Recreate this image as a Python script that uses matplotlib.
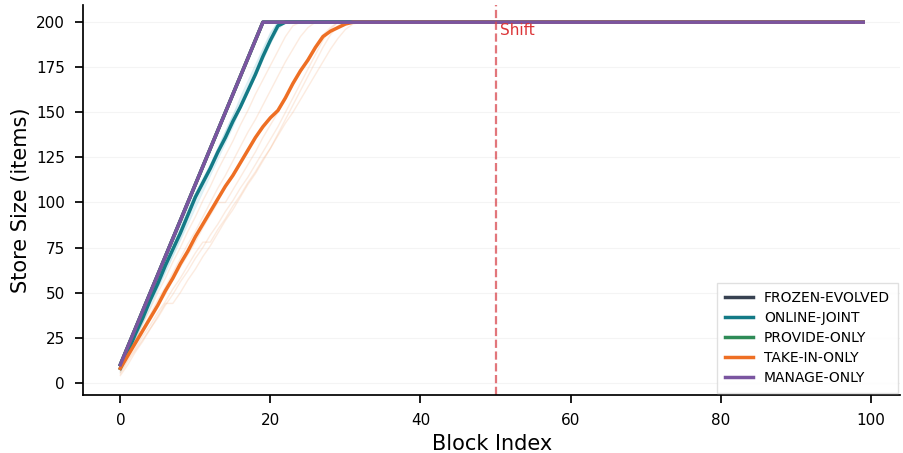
"""Store size over blocks for each adaptation mode."""

import numpy as np
import matplotlib
matplotlib.use('Agg')
import matplotlib.pyplot as plt

N_BLOCKS = 100
SHIFT_BLOCK = 50
CAP = 200

# mean curves, rising part only (then flat at the cap)
manage_only = [10, 20, 30, 40, 50, 60, 70, 80, 90, 100, 110, 120, 130, 140,
               150, 160, 170, 180, 190, 200]
frozen_evolved = list(manage_only)
provide_only = list(manage_only)
online_joint = [8, 17, 27, 36, 46, 55, 65, 74, 83, 93, 103, 111, 119, 128,
                136, 145, 153, 162, 171, 181, 190, 198, 200]
take_in_only = [8, 15, 22, 29, 36, 43, 51, 58, 66, 73, 81, 88, 95, 102, 109,
                115, 122, 129, 136, 142, 147, 151, 158, 166, 173, 179, 186,
                192, 195, 197, 199, 200]

# individual seeds (faint)
online_seeds = [
    [7, 16, 25, 34, 44, 53, 62, 71, 80, 90, 99, 108, 117, 126, 135, 144, 153,
     162, 172, 181, 190, 197, 200],
    [9, 19, 28, 38, 47, 57, 66, 76, 86, 96, 105, 113, 121, 130, 139, 148, 156,
     165, 174, 184, 193, 200],
    [8, 17, 26, 36, 45, 55, 64, 73, 82, 92, 101, 110, 120, 129, 139, 148, 158,
     167, 176, 185, 194, 200],
    [6, 15, 24, 33, 42, 52, 61, 70, 79, 88, 97, 106, 115, 124, 133, 142, 152,
     161, 170, 179, 188, 196, 200],
]
take_in_seeds = [
    [5, 12, 18, 24, 30, 37, 44, 44, 50, 57, 63, 70, 76, 83, 90, 96, 103, 110,
     116, 123, 130, 138, 146, 154, 162, 170, 178, 186, 193, 198, 200],
    [8, 16, 24, 33, 41, 50, 58, 67, 75, 84, 92, 101, 109, 118, 126, 134, 143,
     151, 160, 168, 176, 184, 192, 198, 200],
    [6, 13, 19, 26, 32, 39, 45, 52, 58, 65, 72, 78, 78, 85, 91, 98, 104, 111,
     117, 124, 130, 137, 144, 150, 157, 164, 171, 178, 185, 191, 196, 199, 200],
    [7, 15, 22, 30, 38, 46, 53, 61, 69, 77, 84, 92, 100, 108, 115, 123, 131,
     139, 146, 154, 162, 170, 178, 185, 192, 197, 200],
    [9, 16, 22, 29, 36, 43, 49, 57, 64, 71, 78, 86, 93, 100, 100, 107, 114,
     121, 128, 136, 143, 150, 158, 165, 172, 180, 187, 193, 197, 200],
    [4, 10, 17, 23, 30, 36, 43, 49, 56, 62, 69, 75, 82, 88, 95, 101, 108, 114,
     121, 128, 135, 142, 150, 158, 166, 174, 182, 190, 196, 200],
]

modes = ['FROZEN-EVOLVED', 'ONLINE-JOINT', 'PROVIDE-ONLY', 'TAKE-IN-ONLY',
         'MANAGE-ONLY']
mode_curves = [frozen_evolved, online_joint, provide_only, take_in_only,
               manage_only]
colors = ['#374151', '#137a86', '#2e8b57', '#ee6f24', '#7a55a0']


def pad(vals):
    return np.array(vals + [CAP] * (N_BLOCKS - len(vals)))


blocks = np.arange(N_BLOCKS)

plt.rcParams['font.family'] = 'DejaVu Sans'
plt.rcParams['xtick.major.size'] = 6
plt.rcParams['ytick.major.size'] = 6
plt.rcParams['xtick.major.width'] = 1.25
plt.rcParams['ytick.major.width'] = 1.25
plt.rcParams['xtick.major.pad'] = 7
plt.rcParams['ytick.major.pad'] = 7

fig, ax = plt.subplots(figsize=(9.04, 4.53), dpi=100)

for s in online_seeds:
    ax.plot(blocks, pad(s), color='#8fcfdc', lw=1, alpha=0.3)
for s in take_in_seeds:
    ax.plot(blocks, pad(s), color='#f4a672', lw=1, alpha=0.22)

for name, vals, c in zip(modes, mode_curves, colors):
    ax.plot(blocks, pad(vals), color=c, lw=2.5, label=name)

ax.axvline(SHIFT_BLOCK, color='#d9484f', ls='--', lw=1.6, alpha=0.75)
ax.text(SHIFT_BLOCK + 0.6, 193, 'Shift', color='#dc3538', fontsize=11)

ax.set_xlabel('Block Index', fontsize=15)
ax.set_ylabel('Store Size (items)', fontsize=15)
ax.tick_params(labelsize=11)
ax.set_yticks(np.arange(0, 201, 25))
ax.set_ylim(-6.8, 209.8)
ax.grid(axis='y', color='#eeeeee', lw=0.8, alpha=0.6)
ax.spines['top'].set_visible(False)
ax.spines['right'].set_visible(False)
ax.spines['left'].set_linewidth(1.25)
ax.spines['bottom'].set_linewidth(1.25)

leg = ax.legend(loc='lower right', fontsize=10, framealpha=0.9,
                edgecolor='#dddddd', fancybox=False, labelspacing=0.42,
                borderpad=0.6, borderaxespad=0.15)

fig.subplots_adjust(left=0.092, right=0.996, top=0.99, bottom=0.128)
fig.savefig('out.png', dpi=100)
